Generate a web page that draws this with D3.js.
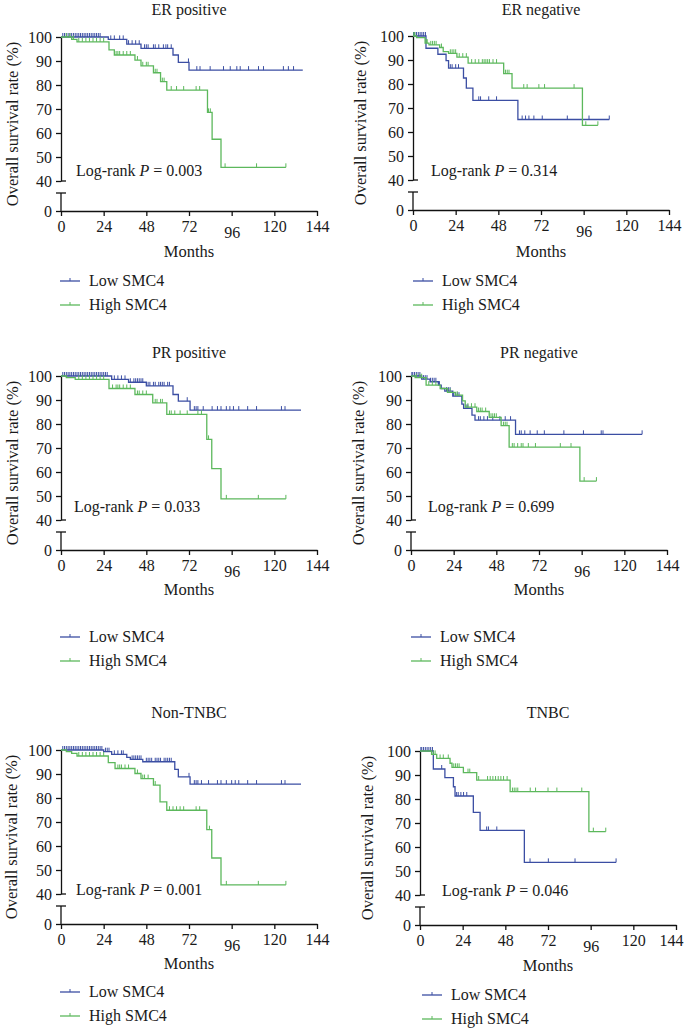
<!DOCTYPE html>
<html><head><meta charset="utf-8">
<script src="https://cdn.jsdelivr.net/npm/d3@7"></script>
<style>
html,body{margin:0;padding:0;background:#fff;}
svg text{font-family:"Liberation Serif","DejaVu Serif",serif;fill:#1a1a1a;}
</style></head>
<body>
<svg id="c" width="685" height="1028"></svg>
<script>
// ---------- DATA ----------
const panelTitles = ["ER positive","ER negative","PR positive","PR negative","Non-TNBC","TNBC"];
const pValues = ["0.003","0.314","0.033","0.699","0.001","0.046"];
const seriesNames = ["Low SMC4","High SMC4"];
const xTicks = [0,24,48,72,96,120,144];
const yTicksUpper = [40,50,60,70,80,90,100];
const yTicksLower = [0];

// ER positive
const erPosLowT = [0,26.6,37,45,63,66,72];
const erPosLowS = [100,99,97,95.3,92.5,89.4,86.2];
const erPosLowEnd = 136;
const erPosLowCens = [1,2,3,4,5,6,7,8,9,10,11,12,13,14,15,16,17,18,19,20,21,22,28,30,33,35,38,40,42,44,47,48,49,52,53,55,57.6,59,60,62,71.7,76.4,78.2,83.9,91.4,95.2,98.9,100.8,105.5,111.1,113.9,125.1,127.9,130.8];
const erPosHighT = [0,6,9,27,30,41.6,45,52,56,59.5,82.4,85,90];
const erPosHighS = [100,99,98,94.6,92.5,90.4,88,85.1,81.4,77.9,68.6,57.4,45.7];
const erPosHighEnd = 126.5;
const erPosHighCens = [3,5,7,10,12,14,16,18,20,22,24,31,32,33,35,37,39,43,46,48,49,53,54,57,58,62,65,69,76,78,83,84,92.3,110,126.5];

// ER negative
const erNegLowT = [0,7.3,14,18.6,20,28.4,30,33.7,59];
const erNegLowS = [100,94.9,92.4,89.7,86.6,82.5,78.3,73.2,65.2];
const erNegLowEnd = 110.4;
const erNegLowCens = [0.3,1,2,3,4,5,6,7,21,22,24,25.6,37,38,42.6,47,61.4,63.3,65.2,68,72.7,86.8,99,110.4];
const erNegHighT = [0,2,6.8,9,15,17,20,24.7,31,51,55.7,95.3];
const erNegHighS = [100,99.3,97,96.3,95.2,93.5,92.8,91.2,88.7,84.3,78.3,62.8];
const erNegHighEnd = 104;
const erNegHighCens = [0.5,1,7.5,8,10,11,12,13,16,21,22,23,24,26,28,30,33,35,37,39,40,41,42,43,45,47,52,53,54,62.3,64.2,70.8,74,90.6,97.2,104];

// PR positive
const prPosLowT = [0,28.5,38,48,63,66,72.6];
const prPosLowS = [100,98.6,97.4,95.9,92.3,89.5,85.8];
const prPosLowEnd = 135;
const prPosLowCens = [1,2,3,4,5,6,7,8,9,10,11,12,13,14,15,16,17,18,19,20,21,22,23,24,25,26,30,32,34,36,39,41,42,43,44,45,46,49,50,52,53,55,56,57,58,60,61,71,75,76,77,80,85,88,90,93,95,97,100,105,110,124,126];
const prPosHighT = [0,3,8,27,41.6,51.6,59.5,82,84.8,90];
const prPosHighS = [100,99.3,98.6,94.8,92.3,88.8,84,73.6,61.4,48.8];
const prPosHighEnd = 126.5;
const prPosHighCens = [10,12,14,16,18,20,22,24,29,31,32,33,35,37,39,43,44,46,48,53,54,56,57,61,62,64,67,71,77,79,83,93,111,126.5];

// PR negative
const prNegLowT = [0,6,10.7,15.4,17,19,23.5,28.6,29.6,34.3,36,58.8];
const prNegLowS = [100,98.7,97.6,96.2,94.8,93.7,91.6,88.3,86.5,83.7,81.6,75.7];
const prNegLowEnd = 130;
const prNegLowCens = [0.5,1,2,3,4,5,7,8,9,11,12,13,14,16,20,21,22,24,25,26,27,31,32,38,39,41,43,46,50,53,56,61,62,64,67,71,75,86,97,107,108,130];
const prNegHighT = [0,2.3,8.5,16.4,20.5,24.9,29,30.5,37,44,50.7,55.2,95];
const prNegHighS = [100,99.3,96.2,94.8,93.2,92,89.6,87,85.2,82.8,79.3,70.4,56.2];
const prNegHighEnd = 104.3;
const prNegHighCens = [3,5,6,10,12,14,22,26,32,34,36,38,39,40,42,45,46,47,48,52,53,54,57,58,60,62,63,66,70,84,90,97.4,104.3];

// Non-TNBC
const nonTnLowT = [0,24,28.5,37,39,46,64,66,72.6];
const nonTnLowS = [100,99.3,98.2,96.9,96.1,95.1,91.9,88.8,85.8];
const nonTnLowEnd = 135;
const nonTnLowCens = [1,2,3,4,5,6,7,8,9,10,11,12,13,14,15,16,17,18,19,20,21,22,23,25,26,27,30,32,34,35,40,41,42,43,44,45,48,49,50,51,53,54,55,56,58,59,60,61,62,72,75,76,77,79,83,88,90,93,96,98,100,105,110,124,126];
const nonTnHighT = [0,3,6,9,26.6,30.4,41.6,45,52,55.7,59.5,82,84.8,90];
const nonTnHighS = [100,99.3,98.6,97.5,94.7,92.3,90.2,88.1,85.4,78.4,74.9,66.8,55,43.8];
const nonTnHighEnd = 126.5;
const nonTnHighCens = [10,12,14,16,18,20,22,24,32,33,34,36,38,43,46,47,49,53,61,63,65,67,69,76,78,83.5,93,111,126.5];

// TNBC
const tnLowT = [0,7.5,14,18.8,19.7,30,33.8,58.7];
const tnLowS = [100,92.5,88.9,85.1,81.25,74.4,66.9,53.6];
const tnLowEnd = 110.3;
const tnLowCens = [0.5,1,2,3,4,5,6,7,12.2,20.6,21.5,23,24.5,26.3,37.5,38.5,43.2,61.9,72.2,87.2,110.3];
const tnHighT = [0,6.5,9.4,16.9,18,24.4,31.9,50.7,95];
const tnHighS = [100,98.6,96.9,94.9,93.2,91,87.9,83.1,66.4];
const tnHighEnd = 104.5;
const tnHighCens = [7.5,8.5,11.3,13.1,15.9,19,20,21,22,27,28,33,38,39.5,41,42.5,44,45.5,47,49,52,53,54,55,62,65,72,77,91,97.5,104.5];

const lowCurves = [
  [erPosLowT,erPosLowS,erPosLowEnd,erPosLowCens],
  [erNegLowT,erNegLowS,erNegLowEnd,erNegLowCens],
  [prPosLowT,prPosLowS,prPosLowEnd,prPosLowCens],
  [prNegLowT,prNegLowS,prNegLowEnd,prNegLowCens],
  [nonTnLowT,nonTnLowS,nonTnLowEnd,nonTnLowCens],
  [tnLowT,tnLowS,tnLowEnd,tnLowCens]];
const highCurves = [
  [erPosHighT,erPosHighS,erPosHighEnd,erPosHighCens],
  [erNegHighT,erNegHighS,erNegHighEnd,erNegHighCens],
  [prPosHighT,prPosHighS,prPosHighEnd,prPosHighCens],
  [prNegHighT,prNegHighS,prNegHighEnd,prNegHighCens],
  [nonTnHighT,nonTnHighS,nonTnHighEnd,nonTnHighCens],
  [tnHighT,tnHighS,tnHighEnd,tnHighCens]];

// ---------- LAYOUT ----------
const layout = [
  {x0:61, yTop:37, ylX:12, titleY:15, lrX:76, lrY:176, monthsY:257, legY:281, legX:60},
  {x0:413,yTop:36, ylX:360,titleY:15, lrX:431,lrY:176, monthsY:257, legY:281, legX:413},
  {x0:61, yTop:376,ylX:12, titleY:358,lrX:74, lrY:512, monthsY:595, legY:637, legX:60},
  {x0:411,yTop:376,ylX:358,titleY:358,lrX:428,lrY:512, monthsY:595, legY:637, legX:411},
  {x0:61, yTop:750,ylX:11, titleY:718,lrX:76, lrY:895, monthsY:969, legY:992, legX:60},
  {x0:420,yTop:751,ylX:367,titleY:718,lrX:442,lrY:896, monthsY:971, legY:995, legX:422}];
const colors = ["#3b4ea3","#5cb85c"];
const W = 256;

const svg = d3.select("#c");

function survAt(T,S,t){ let v=S[0]; for(let i=0;i<T.length;i++){ if(T[i]<=t) v=S[i]; } return v; }

layout.forEach((L,pi)=>{
  const g = svg.append("g");
  const x = d3.scaleLinear().domain([0,144]).range([L.x0, L.x0+W]);
  const y = d3.scaleLinear().domain([40,100]).range([L.yTop+144, L.yTop]);
  const y0 = L.yTop+174, yBreak = L.yTop+156;
  const yLow = d3.scaleLinear().domain([0,10]).range([y0, y0-30]);

  const ay = g.append("g").attr("transform",`translate(${L.x0},0)`)
    .call(d3.axisLeft(y).tickValues(yTicksUpper).tickSize(5).tickSizeOuter(0).tickPadding(4));
  const ay2 = g.append("g").attr("transform",`translate(${L.x0},0)`)
    .call(d3.axisLeft(yLow).tickValues(yTicksLower).tickSize(5).tickSizeOuter(0).tickPadding(4));
  ay2.select(".domain").remove();
  g.append("line").attr("x1",L.x0).attr("x2",L.x0).attr("y1",yBreak).attr("y2",y0).attr("stroke","#111").attr("stroke-width",1.3);
  g.append("line").attr("x1",L.x0-5).attr("x2",L.x0+5).attr("y1",yBreak).attr("y2",yBreak).attr("stroke","#111").attr("stroke-width",1.3);
  g.append("line").attr("x1",L.x0).attr("x2",L.x0+5).attr("y1",y(40)).attr("y2",y(40)).attr("stroke","#111").attr("stroke-width",1.3);
  const ax = g.append("g").attr("transform",`translate(0,${y0})`)
    .call(d3.axisBottom(x).tickValues(xTicks).tickSize(5).tickSizeOuter(0).tickPadding(5));
  ax.selectAll(".tick text").filter(d=>d===96).attr("dy","1.05em");
  if (L.x0 + W + 13 > 684) ax.selectAll(".tick text").filter(d=>d===144).attr("dx", -(L.x0 + W + 13 - 684));
  [ay,ay2,ax].forEach(a=>{
    a.selectAll("path,line").attr("stroke","#111").attr("stroke-width",1.3);
    a.selectAll("text").attr("font-size",16).attr("font-family","Liberation Serif").attr("fill","#1a1a1a");
  });

  g.append("text").attr("x",L.x0+W/2).attr("y",L.titleY).attr("text-anchor","middle").attr("font-size",16).text(panelTitles[pi]);
  g.append("text").attr("x",L.x0+W/2).attr("y",L.monthsY).attr("text-anchor","middle").attr("font-size",16.5).text("Months");
  g.append("text").attr("transform",`translate(${L.ylX},${(L.yTop+y0)/2}) rotate(-90)`)
    .attr("text-anchor","middle").attr("dominant-baseline","central").attr("font-size",16.5).text("Overall survival rate (%)");
  const lr = g.append("text").attr("x",L.lrX).attr("y",L.lrY).attr("font-size",16);
  lr.append("tspan").text("Log-rank ");
  lr.append("tspan").attr("font-style","italic").text("P");
  lr.append("tspan").text(" = "+pValues[pi]);

  [lowCurves[pi], highCurves[pi]].forEach((c,ci)=>{
    const [T,S,end,cens] = c;
    const pts = T.map((t,i)=>[t,S[i]]).concat([[end,S[S.length-1]]]);
    const line = d3.line().x(d=>x(d[0])).y(d=>y(d[1])).curve(d3.curveStepAfter);
    g.append("path").attr("d",line(pts)).attr("fill","none").attr("stroke",colors[ci]).attr("stroke-width",1.3);
    g.selectAll(null).data(cens).enter().append("line")
      .attr("x1",d=>x(d)).attr("x2",d=>x(d))
      .attr("y1",d=>y(survAt(T,S,d))).attr("y2",d=>y(survAt(T,S,d))-4)
      .attr("stroke",colors[ci]).attr("stroke-width",1);
  });

  seriesNames.forEach((n,i)=>{
    const ly = L.legY + i*24;
    g.append("line").attr("x1",L.legX).attr("x2",L.legX+20).attr("y1",ly).attr("y2",ly).attr("stroke",colors[i]).attr("stroke-width",1.3);
    g.append("line").attr("x1",L.legX+10).attr("x2",L.legX+10).attr("y1",ly).attr("y2",ly-3).attr("stroke",colors[i]).attr("stroke-width",1);
    g.append("text").attr("x",L.legX+29).attr("y",ly+5).attr("font-size",16).text(n);
  });
});
</script>
</body></html>
